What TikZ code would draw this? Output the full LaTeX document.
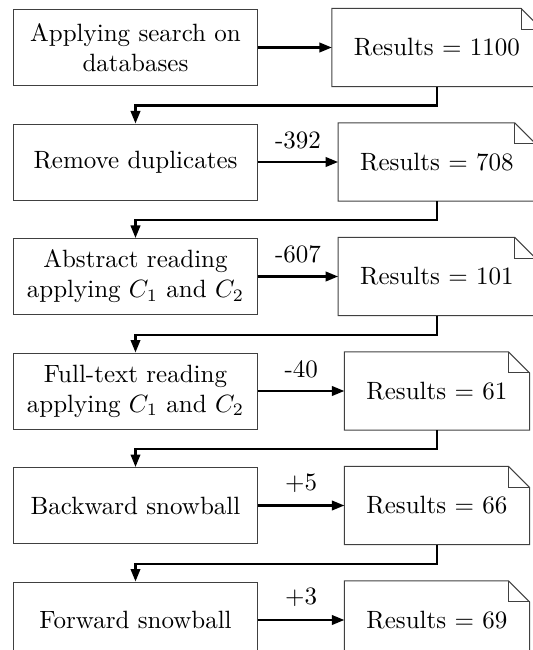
\documentclass[tikz,border=0pt]{standalone}
\usepackage{amssymb}
\usepackage{tikz}
\usetikzlibrary{shapes, arrows, arrows.meta}

\tikzset{
	stepbox/.style={draw=black!75, line width=0.4pt, shape=rectangle, align=center,
		minimum width=97.6pt, minimum height=30.4pt},
	resultbox/.style={shape=rectangle, align=center, minimum height=30.4pt, inner xsep=8.4pt},
	flow/.style={-{Triangle[length=5pt, width=3.8pt]}, line width=0.9pt}
}

\begin{document}
\begin{tikzpicture}[flow]
		\matrix [column sep=30pt, row sep=15pt] {
			\node (s1) [stepbox] {Applying search on\\databases}; &
			\node (r1) [resultbox] {Results = 1100}; \\
			\node (s2) [stepbox] {Remove duplicates}; &
			\node (r2) [resultbox] {Results = 708}; \\
			\node (s3) [stepbox] {Abstract reading\\applying $C_1$ and $C_2$}; &
			\node (r3) [resultbox] {Results = 101}; \\
			\node (s4) [stepbox] {Full-text reading\\applying $C_1$ and $C_2$}; &
			\node (r4) [resultbox] {Results = 61}; \\
			\node (s5) [stepbox] {Backward snowball}; &
			\node (r5) [resultbox] {Results = 66}; \\
			\node (s6) [stepbox] {Forward snowball}; &
			\node (r6) [resultbox] {Results = 69}; \\
		};
		% result documents with folded corner
		\foreach \r in {r1, r2, r3, r4, r5, r6} {
			\draw [-, draw=black!75, line width=0.4pt] (\r.north west) -- ([xshift=-8.4pt]\r.north east)
				-- ([yshift=-8.4pt]\r.north east) -- (\r.south east) -- (\r.south west) -- cycle;
			\draw [-, draw=black!75, line width=0.4pt] ([xshift=-8.4pt]\r.north east) |- ([yshift=-8.4pt]\r.north east);
		}
		\draw       (s1) -- (r1);
		\draw       (s2) -- node [above=1.5pt] {-392} (r2);
		\draw       (s3) -- node [above=1.5pt] {-607} (r3);
		\draw       (s4) -- node [above=1.5pt] {-40} (r4);
		\draw       (s5) -- node [above=1.5pt] {+5} (r5);
		\draw       (s6) -- node [above=1.5pt] {+3} (r6);
		% back to the next step
		\foreach \a/\b in {1/2, 2/3, 3/4, 4/5, 5/6}
			\draw       (r\a.south) -- ([yshift=-7.6pt]r\a.south) -| (s\b.north);
		\pgfresetboundingbox
		\useasboundingbox ([shift={(-5.2pt,3.6pt)}]s1.north west) rectangle ++(213.2pt,-260pt);
		\end{tikzpicture}
\end{document}
